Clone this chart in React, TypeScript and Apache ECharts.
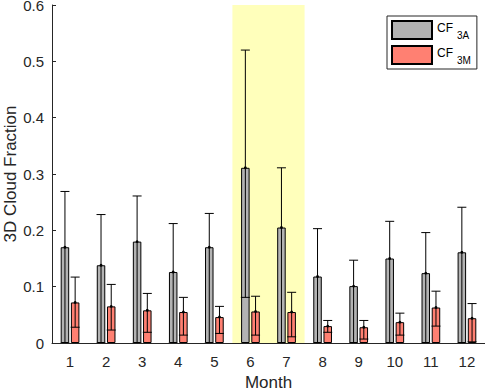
import React, { useEffect, useRef } from "react";
import * as echarts from "echarts";

const months = ["1", "2", "3", "4", "5", "6", "7", "8", "9", "10", "11", "12"];
const cf3aMean = [0.170, 0.138, 0.180, 0.126, 0.170, 0.311, 0.205, 0.118, 0.101, 0.150, 0.124, 0.161];
const cf3aLow = [0, 0, 0, 0, 0, 0.081, 0, 0, 0, 0, 0, 0];
const cf3aHigh = [0.269, 0.228, 0.261, 0.212, 0.230, 0.520, 0.311, 0.203, 0.147, 0.216, 0.196, 0.241];
const cf3mMean = [0.072, 0.065, 0.058, 0.055, 0.046, 0.056, 0.055, 0.030, 0.028, 0.037, 0.063, 0.044];
const cf3mLow = [0.028, 0.023, 0.019, 0.014, 0.017, 0.014, 0.011, 0.019, 0.007, 0.014, 0.030, 0.002];
const cf3mHigh = [0.117, 0.104, 0.088, 0.081, 0.065, 0.083, 0.090, 0.040, 0.040, 0.053, 0.092, 0.070];
const highlight = [5.5, 7.5];
const yTicks = { min: 0, max: 0.6, interval: 0.1 };

const FONT = "'Liberation Sans', Arial, Helvetica, sans-serif";
const AX = "#262626";
const BAR_W = 8.5;
const BAR_GAP = 1.7;

function errSeries(name: string, low: number[], high: number[], mean: number[], offset: number) {
  return {
    type: "custom",
    name: name + "_err",
    z: 5,
    silent: true,
    renderItem: (params: any, api: any) => {
      const idx = api.value(0);
      const pLow = api.coord([idx, api.value(1)]);
      const pHigh = api.coord([idx, api.value(2)]);
      const pMean = api.coord([idx, api.value(3)]);
      const x = pLow[0] + offset;
      const hw = 4.5;
      const st = { stroke: "#000", lineWidth: 1 };
      return {
        type: "group",
        children: [
          { type: "line", shape: { x1: x, y1: pLow[1], x2: x, y2: pHigh[1] }, style: st },
          { type: "line", shape: { x1: x - hw, y1: pLow[1], x2: x + hw, y2: pLow[1] }, style: st },
          { type: "line", shape: { x1: x - hw, y1: pHigh[1], x2: x + hw, y2: pHigh[1] }, style: st },
          { type: "circle", shape: { cx: x, cy: pMean[1], r: 1.4 }, style: { fill: "#000" } },
        ],
      };
    },
    data: months.map((_, i) => [i, low[i], high[i], mean[i]]),
    encode: { x: 0, y: [1, 2] },
  };
}

export default function App() {
  const ref = useRef<HTMLDivElement>(null);
  useEffect(() => {
    document.body.style.margin = "0";
    const chart = echarts.init(ref.current!, undefined, { renderer: "svg" });
    const off = (BAR_W + BAR_GAP) / 2;
    chart.setOption({
      animation: false,
      grid: { left: 52, right: 0, top: 5, bottom: 48, containLabel: false, outerBoundsMode: "none" },
      legend: {
        left: 387,
        top: 16,
        orient: "vertical",
        itemWidth: 40,
        itemHeight: 18,
        itemGap: 5,
        padding: [4, 6, 4, 4],
        borderColor: AX,
        borderWidth: 1,
        backgroundColor: "#fff",
        icon: "rect",
        data: ["CF_3A", "CF_3M"],
        formatter: (n: string) => {
          const [a, b] = n.split("_");
          return "{a|" + a + "}{b|" + b + "}";
        },
        textStyle: {
          fontFamily: FONT,
          color: "#000",
          rich: {
            a: { fontSize: 12, fontFamily: FONT, color: "#000", padding: [0, 0, 4, 0] },
            b: { fontSize: 10, fontFamily: FONT, color: "#000", padding: [10, 0, 0, 4] },
          },
        },
      },
      xAxis: [
        {
          type: "category",
          data: months,
          name: "Month",
          nameLocation: "middle",
          nameGap: 31,
          nameMoveOverlap: false,
          nameTextStyle: { fontFamily: FONT, fontSize: 17, color: AX },
          axisLine: { lineStyle: { color: AX, width: 1 } },
          axisTick: { show: false },
          axisLabel: { fontFamily: FONT, fontSize: 15, color: AX, margin: 11 },
          z: 10,
        },
        { type: "value", min: 0.5, max: 12.5, show: false },
      ],
      yAxis: {
        type: "value",
        min: yTicks.min,
        max: yTicks.max,
        interval: yTicks.interval,
        name: "3D Cloud Fraction",
        nameLocation: "middle",
        nameGap: 33,
        nameMoveOverlap: false,
        nameTextStyle: { fontFamily: FONT, fontSize: 17, color: AX },
        axisLine: { show: true, lineStyle: { color: AX, width: 1 } },
        axisTick: { show: true, inside: true, length: 4, lineStyle: { color: AX } },
        splitLine: { show: false },
        axisLabel: {
          fontFamily: FONT,
          fontSize: 15,
          color: AX,
          margin: 8,
          padding: [4, 0, 0, 0],
          formatter: (v: number) => (v === 0 ? "0" : v.toFixed(1)),
        },
        z: 10,
      },
      series: [
        {
          type: "line",
          xAxisIndex: 1,
          data: [[6, -1]],
          showSymbol: false,
          symbol: "none",
          lineStyle: { opacity: 0 },
          silent: true,
          z: 0,
          markArea: {
            silent: true,
            itemStyle: { color: "#FFFFBB" },
            data: [[{ xAxis: highlight[0] }, { xAxis: highlight[1] }]],
          },
        },
        {
          type: "bar",
          name: "CF_3A",
          data: cf3aMean,
          barWidth: BAR_W,
          barGap: (BAR_GAP / BAR_W) * 100 + "%",
          itemStyle: { color: "#B3B3B3", borderColor: "#000", borderWidth: 1 },
          z: 2,
        },
        {
          type: "bar",
          name: "CF_3M",
          data: cf3mMean,
          barWidth: BAR_W,
          itemStyle: { color: "#FF8072", borderColor: "#000", borderWidth: 1 },
          z: 2,
        },
        errSeries("CF_3A", cf3aLow, cf3aHigh, cf3aMean, -off),
        errSeries("CF_3M", cf3mLow, cf3mHigh, cf3mMean, off),
      ],
    });
    return () => chart.dispose();
  }, []);
  return <div ref={ref} style={{ width: 485, height: 391 }} />;
}
